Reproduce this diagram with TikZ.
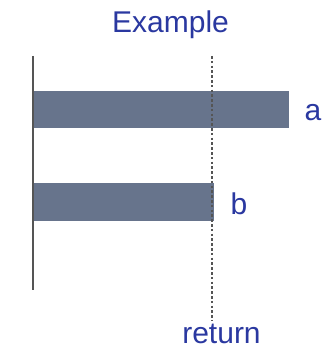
\documentclass[tikz,border=0pt]{standalone}
\usepackage{fontspec}
\setmainfont{Liberation Sans}
\definecolor{txtblue}{RGB}{42,56,160}
\definecolor{barcol}{RGB}{103,116,140}
\definecolor{linecol}{RGB}{85,85,85}
\begin{document}
\begin{tikzpicture}[x=1pt,y=-1pt,
  lbl/.style={text=txtblue,font=\fontsize{30}{36}\selectfont,anchor=base,inner sep=0pt},
  bar/.style={fill=barcol,draw=none,anchor=north west,inner sep=0pt,minimum height=37pt},
  axis/.style={draw=linecol,line width=1.5pt},
  retline/.style={draw=linecol,line width=1.3pt,dash pattern=on 2.6pt off 2.2pt}]
\useasboundingbox (0,0) rectangle (329,350);
\node[lbl] (title) at (170.5,33) {Example};
\node[bar,minimum width=256pt] (bara) at (33,91) {};
\node[bar,minimum width=181pt,minimum height=38pt] (barb) at (33,183) {};
\coordinate (axtop) at (33,56);
\coordinate (axbot) at (33,290);
\draw[axis] (axtop) -- (axbot);
\coordinate (rtop) at (212,56);
\coordinate (rbot) at (212,321);
\draw[retline] (rtop) -- (rbot);
\node[lbl] (la) at (313,120) {a};
\node[lbl] (lb) at (239,214) {b};
\node[lbl] (ret) at (221.5,343) {return};
\end{tikzpicture}
\end{document}
